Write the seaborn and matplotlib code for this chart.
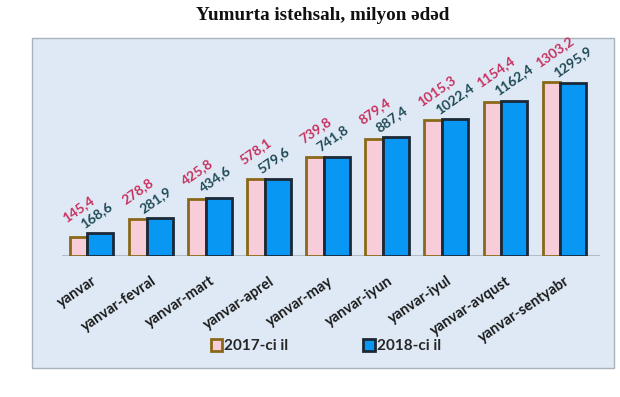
import matplotlib
matplotlib.use("Agg")
import matplotlib.pyplot as plt
import seaborn as sns
import pandas as pd
from matplotlib.patches import Rectangle, Patch

# Data
periods = ["yanvar", "yanvar-fevral", "yanvar-mart", "yanvar-aprel", "yanvar-may",
           "yanvar-iyun", "yanvar-iyul", "yanvar-avqust", "yanvar-sentyabr"]
years = ["2017-ci il", "2018-ci il"]
values_2017 = [145.4, 278.8, 425.8, 578.1, 739.8, 879.4, 1015.3, 1154.4, 1303.2]
values_2018 = [168.6, 281.9, 434.6, 579.6, 741.8, 887.4, 1022.4, 1162.4, 1295.9]

fills = ["#f6cdd8", "#0897f3"]
edges = ["#8a6818", "#1b2837"]
label_colors = ["#c8305e", "#1d4a55"]

df = pd.DataFrame({
    "period": periods * 2,
    "year": [years[0]] * len(periods) + [years[1]] * len(periods),
    "value": values_2017 + values_2018,
})

sns.set_theme(style="white")
plt.rcParams["font.family"] = ["Lato", "DejaVu Sans"]

fig = plt.figure(figsize=(6.2, 3.97), dpi=100)
fig.patch.set_facecolor("white")

# light blue chart box, drawn in its own axes behind the plot
bg = fig.add_axes([0, 0, 1, 1], zorder=0)
bg.set_axis_off()
bg.set_xlim(0, 620)
bg.set_ylim(397, 0)
bg.add_patch(Rectangle((32, 38), 582, 330, facecolor="#dee9f5",
                       edgecolor="#aab2bb", linewidth=1.0))

ax = fig.add_axes([62 / 620, 1 - 256 / 397, 538 / 620, 206 / 397], zorder=2)
ax.set_facecolor("none")

sns.barplot(data=df, x="period", y="value", hue="year", palette=fills,
            order=periods, hue_order=years, ax=ax, legend=False, saturation=1)

# reshape bars: narrow pink bar, wider blue bar right next to it
n = len(periods)
for i, p in enumerate(ax.patches[:2 * n]):
    k = i % n
    if i < n:
        p.set_x(k - 0.37)
        p.set_width(0.30)
        p.set_edgecolor(edges[0])
        p.set_zorder(2)
    else:
        p.set_x(k - 0.07)
        p.set_width(0.44)
        p.set_edgecolor(edges[1])
        p.set_zorder(3)
    p.set_linewidth(2.0)

for k in range(n):
    ax.annotate(f"{values_2017[k]:.1f}".replace(".", ","), (k - 0.37, values_2017[k]),
                xytext=(-1.5, 9), textcoords="offset points", rotation=35,
                rotation_mode="anchor", ha="left", va="bottom",
                fontsize=10, fontweight="bold", color=label_colors[0], zorder=5)
    ax.annotate(f"{values_2018[k]:.1f}".replace(".", ","), (k - 0.07, values_2018[k]),
                xytext=(-1.5, 2.5), textcoords="offset points", rotation=35,
                rotation_mode="anchor", ha="left", va="bottom",
                fontsize=10, fontweight="bold", color=label_colors[1], zorder=5)

ax.set_xlim(-0.5, 8.6)
ax.set_ylim(0, 1542)
ax.axhline(0, color="#b4bcc6", linewidth=1.5, zorder=1)
ax.set_yticks([])
ax.set_xlabel("")
ax.set_ylabel("")
for s in ax.spines.values():
    s.set_visible(False)
ax.tick_params(axis="x", length=0, pad=13)
ax.set_xticks(range(n))
ax.set_xticklabels(periods, rotation=34, ha="right", rotation_mode="anchor",
                   fontsize=10.5, fontweight="bold", color="#1a1a1a")

handles = [Patch(facecolor=fills[j], edgecolor=edges[j], linewidth=2.0, label=years[j])
           for j in range(2)]
fig.legend(handles=handles, loc="center", bbox_to_anchor=(326 / 620, 1 - 346 / 397),
           ncol=2, frameon=False, handlelength=0.75, handleheight=0.85,
           handletextpad=0.15, columnspacing=4.9,
           prop={"weight": "bold", "size": 11})

fig.text(323 / 620, 1 - 15 / 397, "Yumurta istehsalı, milyon ədəd",
         ha="center", va="center", fontsize=13.8, fontweight="bold",
         family=["Liberation Serif", "DejaVu Serif"], color="#111111")

fig.savefig("out.png", dpi=100)
